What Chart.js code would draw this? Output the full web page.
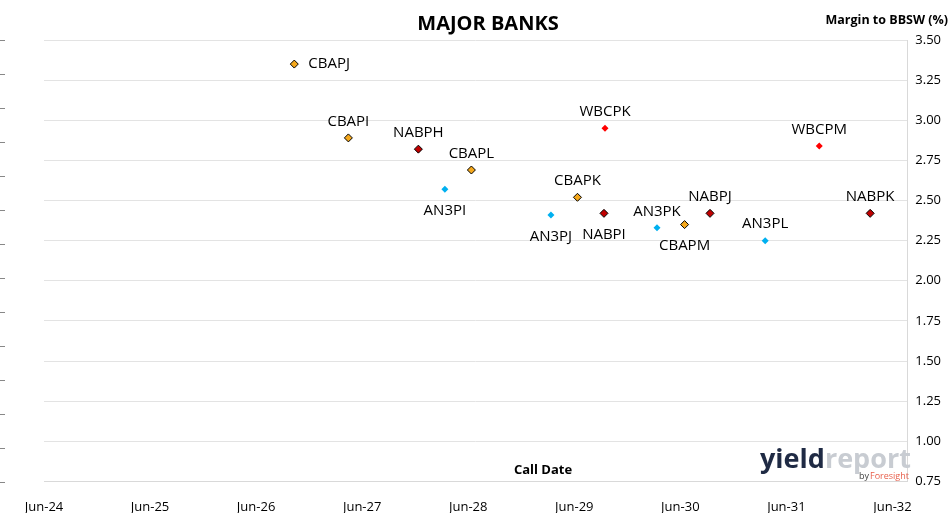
<!DOCTYPE html><html><head><meta charset="utf-8">
<script src="https://cdn.jsdelivr.net/npm/chart.js@4"></script>
<style>html,body{margin:0;background:#fff}#w{width:952px;height:513px;position:relative}</style></head><body>
<div id="w"><canvas id="c"></canvas></div>
<script>
const xTickLabels=["Jun-24","Jun-25","Jun-26","Jun-27","Jun-28","Jun-29","Jun-30","Jun-31","Jun-32"];
// x = years after Jun-24
const cbaNames=["CBAPJ","CBAPI","CBAPL","CBAPK","CBAPM"];
const cbaX=[2.36,2.87,4.03,5.03,6.04];
const cbaY=[3.35,2.89,2.69,2.52,2.35];
const nabNames=["NABPH","NABPI","NABPJ","NABPK"];
const nabX=[3.53,5.28,6.28,7.79];
const nabY=[2.82,2.42,2.42,2.42];
const wbcNames=["WBCPK","WBCPM"];
const wbcX=[5.29,7.31];
const wbcY=[2.95,2.84];
const anzNames=["AN3PI","AN3PJ","AN3PK","AN3PL"];
const anzX=[3.78,4.78,5.78,6.80];
const anzY=[2.57,2.41,2.33,2.25];
const labelPos={CBAPJ:"right",AN3PI:"below",AN3PJ:"below",NABPI:"below",CBAPM:"below"};
const pts=(xs,ys,ns)=>xs.map((x,i)=>({x:x,y:ys[i],n:ns[i]}));
const mk=(label,data,bg,border)=>({label,data,backgroundColor:bg,borderColor:border,borderWidth:border?1:0,pointStyle:'rectRot',pointRadius:border?4:3.5,showLine:false});
const labels={id:'lbl',afterDatasetsDraw(ch){const c=ch.ctx;c.save();c.font='15px "Open Sans", "Liberation Sans", sans-serif';c.fillStyle='#000';
 ch.data.datasets.forEach((d,di)=>{ch.getDatasetMeta(di).data.forEach((e,i)=>{const n=d.data[i].n,p=labelPos[n]||"above";
  if(p==="right"){c.textAlign='left';c.textBaseline='middle';c.fillText(n,e.x+14,e.y);}
  else if(p==="below"){c.textAlign='center';c.textBaseline='top';c.fillText(n,e.x,e.y+14);}
  else{c.textAlign='center';c.textBaseline='bottom';c.fillText(n,e.x,e.y-9);}});});
 c.font='bold 20px "Open Sans", sans-serif';c.textAlign='center';c.textBaseline='middle';c.fillText('MAJOR BANKS',488,24);
 c.font='bold 12.5px "Open Sans", sans-serif';c.textAlign='right';c.fillText('Margin to BBSW (%)',948,20);
 c.font='bold 13px "Open Sans", sans-serif';c.textAlign='center';c.fillText('Call Date',543,470);
 c.font='bold 27px "Open Sans", sans-serif';c.textAlign='left';c.textBaseline='alphabetic';c.fillStyle='#1f2a44';c.fillText('yield',760,468);
 const w=c.measureText('yield').width;c.fillStyle='#c8ccd2';c.fillText('report',760+w,468);
 c.font='9px "Open Sans", sans-serif';c.fillStyle='#444';c.fillText('by',859,479);c.fillStyle='#e8604c';c.fillText('Foresight',870,479);
 c.strokeStyle='#888';c.lineWidth=1;for(let i=0;i<=13;i++){const y=Math.round(40+i*34)+0.5;c.beginPath();c.moveTo(0,y);c.lineTo(5,y);c.stroke();}
 c.restore();}};
new Chart(document.getElementById('c'),{type:'scatter',
 data:{datasets:[mk('CBA',pts(cbaX,cbaY,cbaNames),'#F5A81C','#000'),mk('NAB',pts(nabX,nabY,nabNames),'#C00000','#000'),
  mk('WBC',pts(wbcX,wbcY,wbcNames),'#FF0000',null),mk('ANZ',pts(anzX,anzY,anzNames),'#00B0F0',null)]},
 options:{responsive:true,maintainAspectRatio:false,animation:false,
  layout:{padding:{left:44,right:3,top:40,bottom:-12}},
  plugins:{legend:{display:false},tooltip:{enabled:false}},
  scales:{x:{type:'linear',min:0,max:8.14,
    afterBuildTicks:s=>{s.ticks=xTickLabels.map((l,i)=>({value:i}));},
    grid:{display:false},border:{color:'#d9d9d9'},
    ticks:{callback:(v)=>xTickLabels[v]||'',color:'#000',font:{size:13,family:'"Open Sans", sans-serif'},padding:10,maxRotation:0,autoSkip:false}},
   y:{position:'right',min:0.75,max:3.5,ticks:{stepSize:0.25,callback:v=>v.toFixed(2),color:'#000',font:{size:13,family:'"Open Sans", sans-serif'},padding:8},
    grid:{color:'#e3e3e3',drawTicks:false},border:{color:'#d9d9d9'}}}},
 plugins:[labels]});
</script></body></html>
